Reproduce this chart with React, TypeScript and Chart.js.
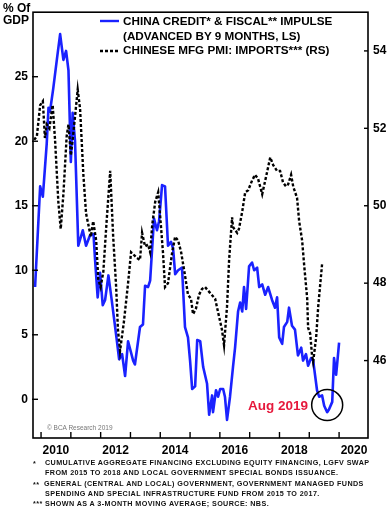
import React, { useEffect, useRef } from "react";
import { Chart, registerables } from "chart.js";

Chart.register(...registerables);

// China credit & fiscal impulse (advanced by 9 months), % of GDP — left scale
const impulseYears = [
  2009.80, 2009.97, 2010.06, 2010.19, 2010.25, 2010.30, 2010.41, 2010.54, 2010.64, 2010.75,
  2010.84, 2010.92, 2011.00, 2011.06, 2011.14, 2011.25, 2011.40, 2011.51, 2011.64, 2011.76,
  2011.81, 2011.90, 2011.98, 2012.07, 2012.15, 2012.26, 2012.37, 2012.54, 2012.62, 2012.72,
  2012.82, 2012.92, 2013.09, 2013.15, 2013.32, 2013.42, 2013.49, 2013.59, 2013.66, 2013.79,
  2013.89, 2013.96, 2014.06, 2014.16, 2014.26, 2014.36, 2014.43, 2014.50, 2014.60, 2014.73,
  2014.83, 2014.93, 2015.00, 2015.07, 2015.17, 2015.24, 2015.34, 2015.44, 2015.57, 2015.64,
  2015.74, 2015.77, 2015.87, 2015.94, 2016.01, 2016.11, 2016.17, 2016.24, 2016.34, 2016.44,
  2016.51, 2016.61, 2016.68, 2016.75, 2016.81, 2016.88, 2016.98, 2017.08, 2017.15, 2017.25,
  2017.32, 2017.42, 2017.52, 2017.62, 2017.75, 2017.85, 2017.92, 2017.99, 2018.09, 2018.15,
  2018.26, 2018.32, 2018.42, 2018.52, 2018.62, 2018.73, 2018.79, 2018.89, 2018.96, 2019.06,
  2019.13, 2019.26, 2019.33, 2019.43, 2019.50, 2019.60, 2019.66, 2019.77, 2019.83, 2019.90,
  2019.93, 2020.00,
];
const impulseValues = [
  8.7, 16.5, 15.7, 19.8, 22.6, 22.3, 24.1, 26.5, 28.3, 26.3,
  27.0, 25.5, 18.4, 22.2, 20.0, 11.9, 13.1, 11.9, 12.7, 12.8,
  10.9, 7.9, 9.8, 7.3, 7.7, 9.6, 7.7, 4.6, 3.1, 3.5,
  1.8, 4.5, 3.0, 2.7, 5.6, 5.8, 8.8, 8.7, 9.2, 14.0,
  13.1, 13.8, 16.6, 16.5, 11.9, 12.2, 11.7, 9.7, 10.0, 10.2,
  5.6, 4.8, 3.0, 0.8, 1.0, 4.6, 4.5, 2.5, 1.2, -1.2,
  0.3, -1.0, 0.7, 0.2, 0.8, 0.8, 0.2, -1.6, 0.2, 2.5,
  4.0, 6.8, 7.5, 6.8, 8.7, 7.0, 10.3, 10.6, 10.0, 10.2,
  8.7, 8.9, 8.1, 8.7, 7.7, 7.1, 7.9, 4.8, 4.3, 5.6,
  6.0, 7.1, 5.7, 5.4, 3.4, 4.0, 3.0, 3.5, 2.6, 3.2,
  3.0, 0.7, 0.2, 0.3, -0.5, -1.0, -0.8, -0.2, 3.2, 1.9,
  2.6, 4.4,
];

// Chinese manufacturing PMI: imports (3-month moving average) — right scale
const pmiYears = [
  2009.77, 2009.86, 2009.97, 2010.06, 2010.13, 2010.19, 2010.28, 2010.39, 2010.47, 2010.58,
  2010.66, 2010.75, 2010.86, 2010.92, 2011.00, 2011.06, 2011.14, 2011.23, 2011.31, 2011.42,
  2011.51, 2011.59, 2011.67, 2011.75, 2011.85, 2011.92, 2012.00, 2012.09, 2012.20, 2012.32,
  2012.42, 2012.52, 2012.58, 2012.65, 2012.78, 2012.92, 2013.02, 2013.09, 2013.22, 2013.32,
  2013.39, 2013.49, 2013.59, 2013.66, 2013.73, 2013.83, 2013.93, 2013.99, 2014.09, 2014.16,
  2014.26, 2014.40, 2014.50, 2014.60, 2014.70, 2014.83, 2014.93, 2015.03, 2015.10, 2015.20,
  2015.30, 2015.40, 2015.50, 2015.67, 2015.84, 2015.94, 2016.07, 2016.14, 2016.24, 2016.31,
  2016.41, 2016.44, 2016.58, 2016.64, 2016.75, 2016.85, 2016.95, 2017.08, 2017.18, 2017.28,
  2017.42, 2017.55, 2017.69, 2017.79, 2017.92, 2018.02, 2018.12, 2018.22, 2018.29, 2018.39,
  2018.46, 2018.59, 2018.66, 2018.76, 2018.83, 2018.93, 2018.96, 2019.03, 2019.09, 2019.13,
  2019.23, 2019.30, 2019.43,
];
const pmiValues = [
  51.7, 51.8, 52.6, 52.7, 51.75, 52.1, 52.0, 52.6, 51.7, 50.1,
  49.4, 50.3, 51.8, 52.1, 51.3, 51.7, 52.3, 53.0, 52.5, 50.8,
  49.8, 49.5, 49.2, 49.6, 49.1, 48.1, 47.9, 48.3, 49.6, 50.9,
  49.2, 47.9, 46.8, 46.25, 47.0, 48.0, 48.8, 48.75, 48.65, 48.6,
  49.3, 48.95, 49.0, 48.8, 49.5, 50.1, 50.35, 49.8, 48.8, 47.9,
  48.0, 48.8, 49.2, 49.1, 48.8, 48.2, 47.7, 47.6, 47.2, 47.35,
  47.7, 47.85, 47.9, 47.75, 47.6, 47.25, 46.8, 46.4, 47.4, 48.6,
  49.7, 49.45, 49.3, 49.4, 49.85, 50.35, 50.4, 50.65, 50.8, 50.7,
  50.3, 50.75, 51.25, 51.05, 50.9, 50.9, 50.6, 50.5, 50.55, 50.8,
  50.5, 50.2, 49.6, 49.1, 48.45, 47.6, 46.85, 46.7, 46.15, 45.97,
  46.6, 47.4, 48.5,
];

const leftTicks = [0, 5, 10, 15, 20, 25];
const rightTicks = [46, 48, 50, 52, 54];
const yearTickMarks = [2010, 2011, 2012, 2013, 2014, 2015, 2016, 2017, 2018, 2019, 2020];
const yearLabelPositions = [2010.5, 2012.5, 2014.5, 2016.5, 2018.5, 2020.5];
const yearLabels = ["2010", "2012", "2014", "2016", "2018", "2020"];

const circleYear = 2019.6;
const circleValue = -0.45;

const BLUE = "#1a22ff";
const FONT = '"Liberation Sans", Arial, Helvetica, sans-serif';

const framePlugin = {
  id: "frame",
  afterDatasetsDraw(chart: any) {
    const { ctx, chartArea: a, scales } = chart;
    ctx.save();
    ctx.strokeStyle = "#000";
    ctx.lineWidth = 1.6;
    ctx.strokeRect(a.left, a.top, a.right - a.left, a.bottom - a.top);
    ctx.lineWidth = 1.4;
    const seg = (x1: number, y1: number, x2: number, y2: number) => {
      ctx.beginPath();
      ctx.moveTo(x1, y1);
      ctx.lineTo(x2, y2);
      ctx.stroke();
    };
    for (const yr of yearTickMarks) {
      const px = scales.x.getPixelForValue(yr);
      seg(px, a.bottom, px, a.bottom - 6);
    }
    for (const v of leftTicks) {
      const py = scales.yL.getPixelForValue(v);
      seg(a.left - 1, py, a.left + 5, py);
    }
    for (const v of rightTicks) {
      const py = scales.yR.getPixelForValue(v);
      seg(a.right - 4, py, a.right, py);
    }
    // annotation circle
    const cx = scales.x.getPixelForValue(circleYear);
    const cy = scales.yL.getPixelForValue(circleValue);
    ctx.lineWidth = 1.5;
    ctx.beginPath();
    ctx.arc(cx, cy, 15.5, 0, Math.PI * 2);
    ctx.stroke();
    // legend samples
    ctx.lineWidth = 2.4;
    ctx.strokeStyle = BLUE;
    seg(100, 21, 119, 21);
    ctx.strokeStyle = "#000";
    ctx.setLineDash([3, 2]);
    seg(100, 51, 119, 51);
    ctx.restore();
  },
};

const tickFont = { family: FONT, size: 12, weight: "bold" as const };

export default function App() {
  const ref = useRef<HTMLCanvasElement>(null);

  useEffect(() => {
    if (!ref.current) return;
    const chart = new Chart(ref.current, {
      type: "line",
      data: {
        datasets: [
          {
            label: "CHINESE MFG PMI: IMPORTS*** (RS)",
            data: pmiYears.map((x, i) => ({ x, y: pmiValues[i] })),
            yAxisID: "yR",
            borderColor: "#000",
            borderWidth: 2.4,
            borderDash: [3, 2],
            pointRadius: 0,
            tension: 0,
            fill: false,
          },
          {
            label: "CHINA CREDIT* & FISCAL** IMPULSE (ADVANCED BY 9 MONTHS, LS)",
            data: impulseYears.map((x, i) => ({ x, y: impulseValues[i] })),
            yAxisID: "yL",
            borderColor: BLUE,
            borderWidth: 2.6,
            borderJoinStyle: "round",
            pointRadius: 0,
            tension: 0,
            fill: false,
          },
        ],
      },
      options: {
        responsive: false,
        maintainAspectRatio: false,
        animation: false,
        layout: { padding: { top: 5, left: 0, right: 0, bottom: 0 } },
        plugins: { legend: { display: false }, tooltip: { enabled: false } },
        scales: {
          x: {
            type: "linear",
            min: 2009.73,
            max: 2020.97,
            grid: { display: false, drawTicks: false },
            border: { display: false },
            afterBuildTicks: (s: any) => {
              s.ticks = yearLabelPositions.map((v) => ({ value: v }));
            },
            afterFit: (s: any) => {
              s.height = 72;
            },
            ticks: {
              autoSkip: false,
              maxRotation: 0,
              padding: 5,
              color: "#000",
              font: tickFont,
              callback: (_v: any, i: number) => yearLabels[i],
            },
          },
          yL: {
            type: "linear",
            position: "left",
            min: -3,
            max: 30,
            grid: { display: false, drawTicks: false },
            border: { display: false },
            afterBuildTicks: (s: any) => {
              s.ticks = leftTicks.map((v) => ({ value: v }));
            },
            afterFit: (s: any) => {
              s.width = 33;
            },
            ticks: { padding: 5, color: "#000", font: tickFont },
          },
          yR: {
            type: "linear",
            position: "right",
            min: 44,
            max: 55,
            grid: { display: false, drawTicks: false },
            border: { display: false },
            afterBuildTicks: (s: any) => {
              s.ticks = rightTicks.map((v) => ({ value: v }));
            },
            afterFit: (s: any) => {
              s.width = 22;
            },
            ticks: { padding: 5, color: "#000", font: tickFont },
          },
        },
      } as any,
      plugins: [framePlugin],
    });
    return () => chart.destroy();
  }, []);

  const text = (extra: React.CSSProperties): React.CSSProperties => ({
    position: "absolute",
    fontFamily: FONT,
    fontWeight: "bold",
    whiteSpace: "nowrap",
    lineHeight: 1,
    color: "#000",
    margin: 0,
    ...extra,
  });

  const foot = (top: number, left: number): React.CSSProperties =>
    text({ top, left, fontSize: "7.2px", letterSpacing: "0.4px", color: "#111" });

  return (
    <div style={{ position: "absolute", left: 0, top: 0, width: 390, height: 510, background: "#fff", overflow: "hidden" }}>
      <canvas ref={ref} width={390} height={510} style={{ position: "absolute", left: 0, top: 0, width: 390, height: 510 }} />
      <div style={text({ left: 3, top: 2, fontSize: "12px" })}>% Of</div>
      <div style={text({ left: 3, top: 14, fontSize: "12px" })}>GDP</div>
      <div style={text({ left: 123, top: 15, fontSize: "11.7px" })}>CHINA CREDIT* &amp; FISCAL** IMPULSE</div>
      <div style={text({ left: 123, top: 30, fontSize: "11.7px" })}>(ADVANCED BY 9 MONTHS, LS)</div>
      <div style={text({ left: 123, top: 44, fontSize: "11.7px" })}>CHINESE MFG PMI: IMPORTS*** (RS)</div>
      <div style={text({ left: 248, top: 399, fontSize: "13.5px", color: "#e6193c" })}>Aug 2019</div>
      <div style={text({ left: 47, top: 425, fontSize: "6.5px", fontWeight: "normal", color: "#777" })}>© BCA Research 2019</div>
      <div style={foot(460, 33)}>*</div>
      <div style={foot(459, 45)}>CUMULATIVE AGGREGATE FINANCING EXCLUDING EQUITY FINANCING, LGFV SWAP</div>
      <div style={foot(469, 45)}>FROM 2015 TO 2018 AND LOCAL GOVERNMENT SPECIAL BONDS ISSUANCE.</div>
      <div style={foot(481, 33)}>**</div>
      <div style={foot(480, 44)}>GENERAL (CENTRAL AND LOCAL) GOVERNMENT, GOVERNMENT MANAGED FUNDS</div>
      <div style={foot(490, 45)}>SPENDING AND SPECIAL INFRASTRUCTURE FUND FROM 2015 TO 2017.</div>
      <div style={foot(500, 33)}>***</div>
      <div style={foot(500, 45)}>SHOWN AS A 3-MONTH MOVING AVERAGE; SOURCE: NBS.</div>
    </div>
  );
}
